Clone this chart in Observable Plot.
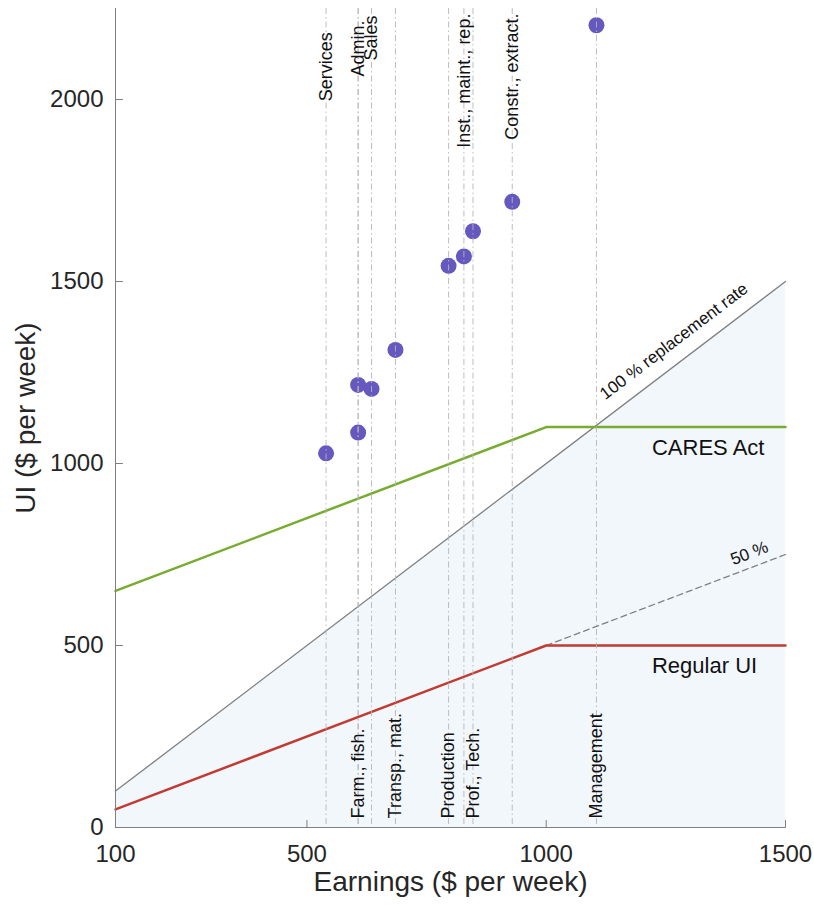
<!DOCTYPE html>
<html><head><meta charset="utf-8">
<script src="https://cdn.jsdelivr.net/npm/d3@7"></script>
<script src="https://cdn.jsdelivr.net/npm/@observablehq/plot@0.6"></script>
<style>
body{margin:0;background:#fff;}
#chart svg{display:block;}
</style></head><body><div id="chart"></div>
<script>
// Occupations (weekly earnings vs. UI under CARES)
const occupations = ["Services","Farm., fish.","Admin.","Sales","Transp., mat.","Production","Inst., maint., rep.","Prof., Tech.","Constr., extract.","Management"];
const occEarnings = [540, 607, 607, 635, 685, 796, 828, 847, 929, 1105];
const occUI = [1028, 1085, 1216, 1205, 1312, 1543, 1569, 1638, 1719, 2204];
const occLabelSide = ["top","bottom","top","top","bottom","bottom","top","bottom","top","bottom"];
const occLabelAt = [2185, 25, 2217, 2231, 25, 25, 2236, 25, 2236, 25];

// Benefit schedules
const scheduleEarnings = [100, 1000, 1500];
const regularUI = [50, 500, 500];
const caresUI = [650, 1100, 1100];
const replacementEarnings = [100, 1500];
const replacementUI = [100, 1500];
const halfEarnings = [1000, 1500];
const halfUI = [500, 750];

const seriesLabels = ["CARES Act", "Regular UI"];
const seriesLabelAt = [1221, 1221];
const rateLabels = ["100 % replacement rate", "50 %"];
const rateValues = [1, 0.5];
const rateLabelAt = [1142, 1397];

const xTicks = [100, 500, 1000, 1500];
const yTicks = [0, 500, 1000, 1500, 2000];
const xDomain = [100, 1500];
const yDomain = [0, 2250];
const xTitle = "Earnings ($ per week)";
const yTitle = "UI ($ per week)";

const W = 814, H = 905, mL = 115, mR = 29, mT = 8, mB = 78;
const pxX = (W - mL - mR) / (xDomain[1] - xDomain[0]);
const pxY = (H - mT - mB) / (yDomain[1] - yDomain[0]);
const deg = r => r * 180 / Math.PI;
const ang = rate => Math.atan(rate * pxY / pxX);

const occ = occupations.map((name, i) => ({name, earn: occEarnings[i], ui: occUI[i], side: occLabelSide[i], at: occLabelAt[i]}));
const pts = (xs, ys) => xs.map((x, i) => ({x, y: ys[i]}));
const regular = pts(scheduleEarnings, regularUI);
const cares = pts(scheduleEarnings, caresUI);
const repl = pts(replacementEarnings, replacementUI);
const half = pts(halfEarnings, halfUI);

const axisGray = "#7f7f7f";
const font = "'Liberation Sans', Arial, Helvetica, sans-serif";
const tickShape = {draw(context, l) { context.moveTo(0, 0); context.lineTo(0, -l); }};

const rateText = (i, off) => {
  const a = ang(rateValues[i]);
  return Plot.text([rateLabels[i]], {
    x: () => rateLabelAt[i], y: () => rateLabelAt[i] * rateValues[i], text: d => d,
    rotate: -deg(a), textAnchor: "start", fontSize: 17, fill: "#111",
    dx: -off * Math.sin(a), dy: -off * Math.cos(a)
  });
};

const chart = Plot.plot({
  width: W, height: H,
  marginLeft: mL, marginRight: mR, marginTop: mT, marginBottom: mB,
  x: {domain: xDomain},
  y: {domain: yDomain},
  style: {fontFamily: font, background: "#fff", overflow: "visible"},
  marks: [
    Plot.areaY(repl, {x: "x", y: "y", fill: "#f2f7fc"}),
    Plot.line(repl, {x: "x", y: "y", stroke: "#808080", strokeWidth: 1.3}),
    Plot.line(half, {x: "x", y: "y", stroke: "#808080", strokeWidth: 1.3, strokeDasharray: "6,4"}),
    Plot.line(cares, {x: "x", y: "y", stroke: "#77ac30", strokeWidth: 2.5}),
    Plot.line(regular, {x: "x", y: "y", stroke: "#c23a32", strokeWidth: 2.5}),
    Plot.dot(occ, {x: "earn", y: "ui", r: 8, fill: "#6558bf", stroke: null}),
    Plot.ruleX(occ, {x: "earn", stroke: "#b5b5b5", strokeWidth: 0.9, strokeDasharray: "6,3,1.5,3"}),
    Plot.text(occ.filter(d => d.side === "top"), {x: "earn", y: "at", text: "name", rotate: -90, textAnchor: "end", fontSize: 18, fill: "#111"}),
    Plot.text(occ.filter(d => d.side === "bottom"), {x: "earn", y: "at", text: "name", rotate: -90, textAnchor: "start", fontSize: 18, fill: "#111"}),
    Plot.text([0], {x: () => seriesLabelAt[0], y: () => caresUI[caresUI.length - 1], text: () => seriesLabels[0], textAnchor: "start", fontSize: 22, dy: 21, fill: "#111"}),
    Plot.text([0], {x: () => seriesLabelAt[1], y: () => regularUI[regularUI.length - 1], text: () => seriesLabels[1], textAnchor: "start", fontSize: 22, dy: 20, fill: "#111"}),
    rateText(0, 20),
    rateText(1, 14),
    Plot.ruleX([xDomain[0]], {stroke: axisGray, strokeWidth: 1}),
    Plot.ruleY([yDomain[0]], {stroke: axisGray, strokeWidth: 1}),
    Plot.vector(yTicks, {y: d => d, frameAnchor: "left", length: 7, rotate: 90, anchor: "start", shape: tickShape, stroke: axisGray, strokeWidth: 1}),
    Plot.vector(xTicks, {x: d => d, frameAnchor: "bottom", length: 7, rotate: 0, anchor: "start", shape: tickShape, stroke: axisGray, strokeWidth: 1}),
    Plot.axisY({ticks: yTicks, tickSize: 0, tickPadding: 12, fontSize: 24, tickFormat: d => String(d), label: null, color: "#262626"}),
    Plot.axisX({ticks: xTicks, tickSize: 0, tickPadding: 17, fontSize: 24, tickFormat: d => String(d), label: null, color: "#262626"}),
    Plot.text([yTitle], {frameAnchor: "left", text: d => d, rotate: -90, textAnchor: "middle", dx: -89, fontSize: 28, fill: "#262626"}),
    Plot.text([xTitle], {frameAnchor: "bottom", text: d => d, textAnchor: "middle", dy: 63, fontSize: 28, fill: "#262626"})
  ]
});
document.getElementById("chart").appendChild(chart);
</script></body></html>
